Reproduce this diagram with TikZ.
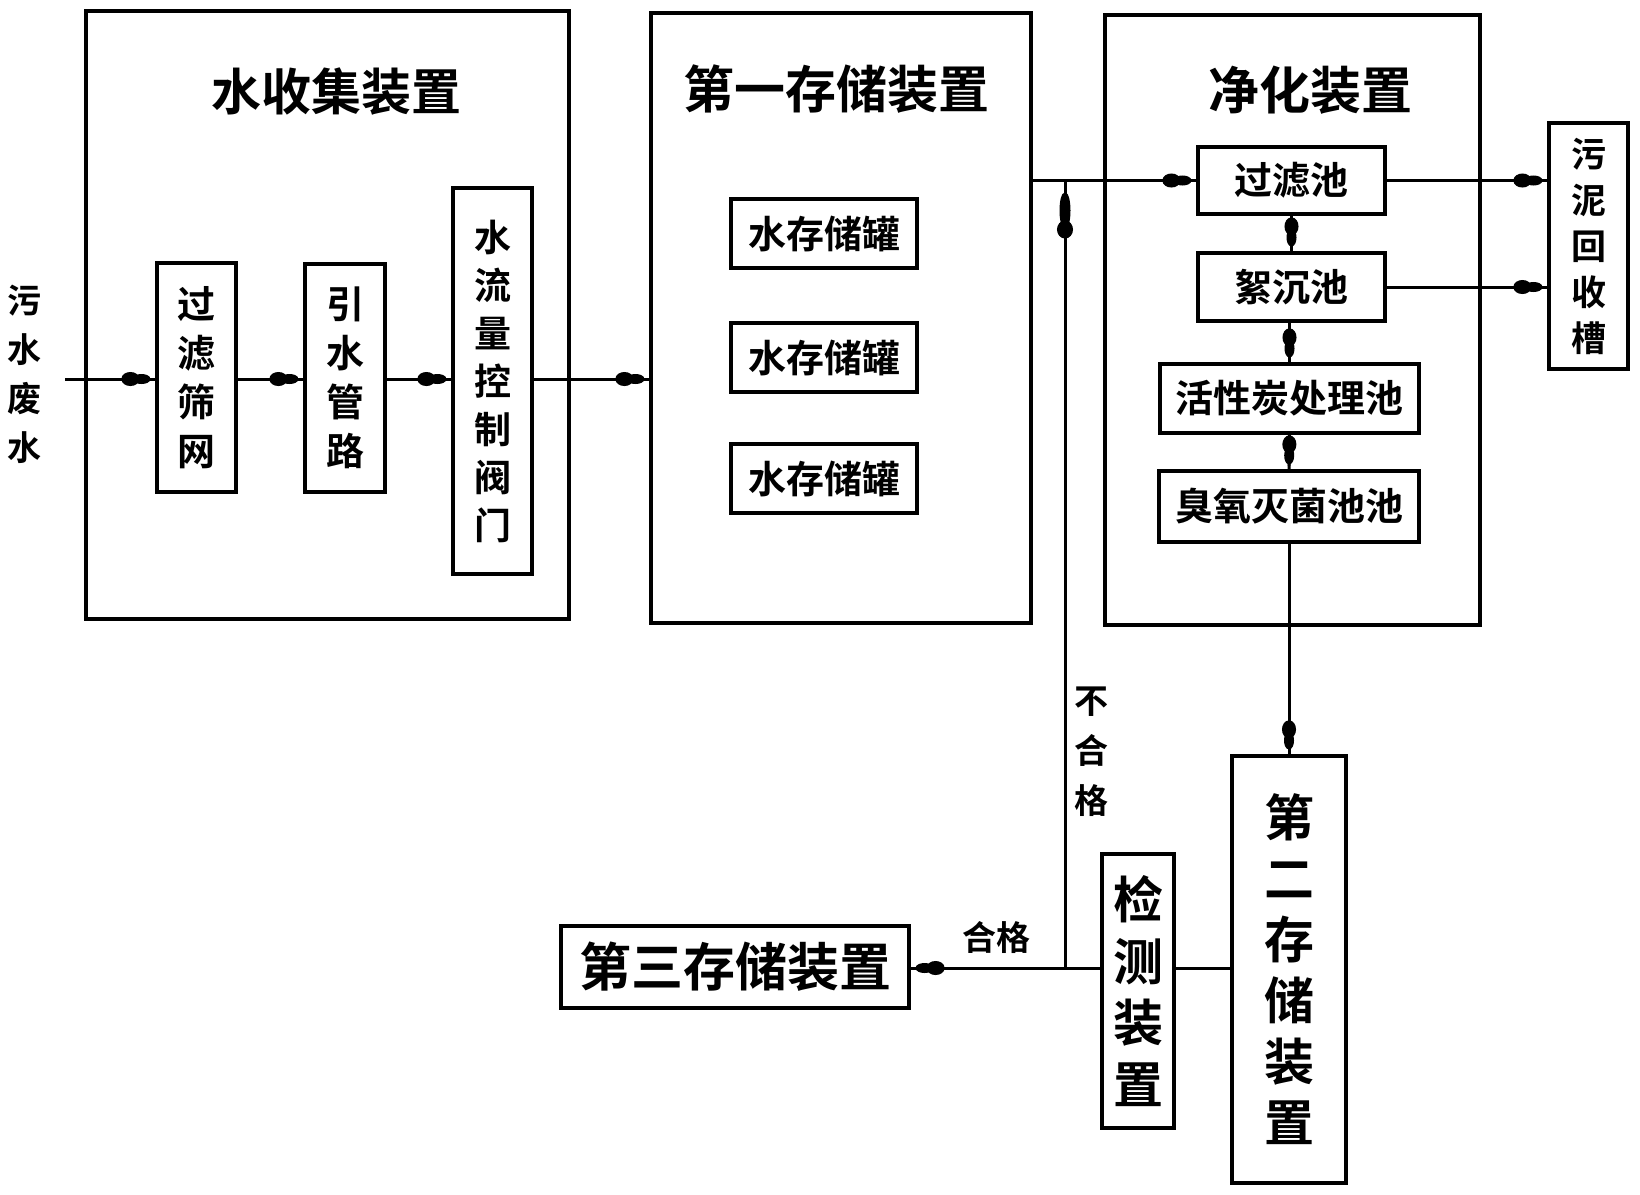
\documentclass[tikz,border=0pt]{standalone}
\usepackage{fontspec}
\setmainfont{Noto Sans CJK SC}[BoldFont={Noto Sans CJK SC Bold}]
\usetikzlibrary{arrows.meta}
\newcommand\fsz[2]{\fontsize{#1}{#2}\selectfont}
\tikzset{
  bx/.style={draw,line width=1.6pt,inner sep=0pt,align=center,font=\bfseries\fsz{19}{24.5}},
  sz/.style n args={2}{minimum width=#1*0.5pt,minimum height=#2*0.5pt},
  ln/.style={line width=1.5pt},
  fl/.style={ln,-{Ellipse[length=9pt,width=7pt,sep=-3.5pt]Ellipse[length=9pt,width=5pt,sep=0pt]Rectangle[length=2.5pt,width=1.5pt,sep=0pt]}},
  fllong/.style={ln,-{Ellipse[length=9pt,width=8pt,sep=-4pt]Ellipse[length=18pt,width=5.5pt,sep=0pt]Rectangle[length=6pt,width=1.5pt,sep=0pt]}},
  lbl/.style={inner sep=0pt,align=center}
}
\begin{document}
\begin{tikzpicture}[x=0.5pt,y=-0.5pt]
\useasboundingbox (0,0) rectangle (1640,1195);
\fill[white] (0,0) rectangle (1640,1195);

% water collection device
\node[bx,sz={483}{608}] (collect) at (327.5,315) {};
\node[lbl,font=\bfseries\fsz{25}{25}] (collectT) at (336,92) {水收集装置};
\node[bx,sz={79}{229}] (screen) at (196.5,377.5) {过\\滤\\筛\\网};
\node[bx,sz={80}{228}] (pipe) at (345,378) {引\\水\\管\\路};
\node[bx,sz={79}{386},font=\bfseries\fsz{18.5}{24}] (valve) at (492.5,381) {水\\流\\量\\控\\制\\阀\\门};
\node[lbl,font=\bfseries\fsz{17}{24.5}] (inlbl) at (25,374) {污\\水\\废\\水};

% first storage
\node[bx,sz={380}{610}] (store1) at (841,318) {};
\node[lbl,font=\bfseries\fsz{25.5}{25.5}] (store1T) at (836,89) {第一存储装置};
\node[bx,sz={186}{69}] (tank1) at (824,233.5) {水存储罐};
\node[bx,sz={186}{69}] (tank2) at (824,357.5) {水存储罐};
\node[bx,sz={186}{69}] (tank3) at (824,478.5) {水存储罐};

% purification
\node[bx,sz={375}{610}] (purify) at (1292.5,320) {};
\node[lbl,font=\bfseries\fsz{25.5}{25.5}] (purifyT) at (1310,90) {净化装置};
\node[bx,sz={187}{67}] (filt) at (1291.5,180.5) {过滤池};
\node[bx,sz={187}{68}] (floc) at (1291.5,287) {絮沉池};
\node[bx,sz={259}{69}] (carbon) at (1289.5,398.5) {活性炭处理池};
\node[bx,sz={260}{71}] (ozone) at (1289,506.5) {臭氧灭菌池池};
\node[bx,sz={79}{246},font=\bfseries\fsz{17.5}{23}] (sludge) at (1588.5,246) {污\\泥\\回\\收\\槽};

% second storage, detection, third storage
\node[bx,sz={114}{427},font=\bfseries\fsz{25}{30.5}] (second) at (1289,969.5) {第\\二\\存\\储\\装\\置};
\node[bx,sz={72}{274},font=\bfseries\fsz{25}{30.75}] (detect) at (1138,991) {检\\测\\装\\置};
\node[bx,sz={348}{82},font=\bfseries\fsz{26}{26}] (third) at (735,967) {第三存储装置};

\node[lbl,font=\bfseries\fsz{17}{25}] (fail) at (1091,752) {不\\合\\格};
\node[lbl,font=\bfseries\fsz{17}{17}] (pass) at (996,937) {合格};

% connectors
\coordinate (in) at (65,379);
\coordinate (jt) at (1065,180.5);
\coordinate (jb) at (1065,968);
\draw[fl] (in) -- (in -| screen.west);
\draw[fl] (screen.east |- in) -- (pipe.west |- in);
\draw[fl] (pipe.east |- in) -- (valve.west |- in);
\draw[fl] (valve.east |- in) -- (store1.west |- in);
\draw[fl] (store1.east |- filt.west) -- (filt.west);
\draw[fl] (filt.east) -- (filt.east -| sludge.west);
\draw[fl] (floc.east) -- (floc.east -| sludge.west);
\draw[fl] (filt.south) -- (floc.north);
\draw[fl] (carbon.north |- floc.south) -- (carbon.north);
\draw[fl] (carbon.south) -- (ozone.north);
\draw[fl] (ozone.south) -- (second.north);
\draw[ln] (second.west |- jb) -- (detect.east |- jb);
\draw[fl] (detect.west |- jb) -- (third.east |- jb);
\draw[fllong] (jb) -- (jt);
\end{tikzpicture}
\end{document}
